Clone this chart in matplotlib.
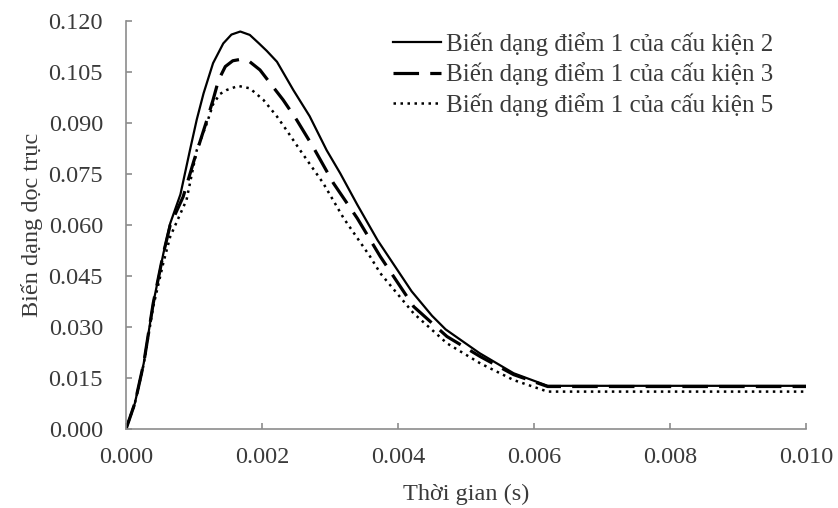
import numpy as np
import matplotlib
matplotlib.use("Agg")
import matplotlib.pyplot as plt
from matplotlib.ticker import FormatStrFormatter

plt.rcParams['font.family'] = ['Liberation Serif', 'DejaVu Serif']

# Biến dạng điểm 1 của cấu kiện 2 (nét liền)
t2 = [0, 0.00013, 0.00026, 0.0004, 0.00055, 0.00065, 0.0008, 0.00094, 0.00104,
      0.00114, 0.00128, 0.00143, 0.00155, 0.00168, 0.00182, 0.00195, 0.00207,
      0.00222, 0.00246, 0.0027, 0.00295, 0.00315, 0.0034, 0.0037, 0.0039,
      0.0042, 0.0045, 0.0047, 0.0052, 0.0057, 0.0062, 0.010]
e2 = [0, 0.0076, 0.0193, 0.037, 0.0517, 0.0605, 0.069, 0.082, 0.091,
      0.0987, 0.1076, 0.1134, 0.1160, 0.1169, 0.1159, 0.1135, 0.1112,
      0.1080, 0.0997, 0.0920, 0.0820, 0.0752, 0.0660, 0.0555, 0.0495,
      0.0405, 0.0333, 0.0293, 0.0223, 0.0164, 0.0127, 0.0127]

# cấu kiện 3 (nét đứt)
t3 = [0, 0.00013, 0.00026, 0.0004, 0.00055, 0.00065, 0.00084, 0.0010, 0.00119,
      0.00128, 0.00136, 0.00146, 0.00157, 0.00168, 0.00182, 0.00197, 0.00212,
      0.00231, 0.00251, 0.00275, 0.00305, 0.0034, 0.00374, 0.00423, 0.00472,
      0.00521, 0.0057, 0.0062, 0.010]
e3 = [0, 0.0076, 0.0193, 0.037, 0.0517, 0.0600, 0.0683, 0.079, 0.0909,
      0.0968, 0.1026, 0.1066, 0.1083, 0.1087, 0.1080, 0.1056, 0.1017,
      0.0968, 0.0909, 0.0830, 0.0723, 0.0620, 0.0507, 0.0360, 0.0272,
      0.0213, 0.0160, 0.0125, 0.0125]

# cấu kiện 5 (nét chấm)
t5 = [0, 0.00013, 0.00026, 0.0004, 0.00055, 0.00065, 0.00089, 0.00104, 0.00119,
      0.00128, 0.00138, 0.00148, 0.00165, 0.00182, 0.00202, 0.00222, 0.00236,
      0.00256, 0.0029, 0.0032, 0.00359, 0.00374, 0.00423, 0.00472, 0.00521,
      0.0057, 0.0062, 0.010]
e5 = [0, 0.0076, 0.019, 0.036, 0.049, 0.0566, 0.0674, 0.082, 0.0900,
      0.0955, 0.0985, 0.0997, 0.1009, 0.1002, 0.0968, 0.0919, 0.0879,
      0.0820, 0.0723, 0.0620, 0.0507, 0.0458, 0.0340, 0.0252, 0.0193,
      0.0144, 0.0110, 0.0110]

labels = ['Biến dạng điểm 1 của cấu kiện 2',
          'Biến dạng điểm 1 của cấu kiện 3',
          'Biến dạng điểm 1 của cấu kiện 5']

xticks = np.arange(0, 0.0101, 0.002)
yticks = np.arange(0, 0.1201, 0.015)

fig = plt.figure(figsize=(8.38, 5.08), dpi=100)
ax = fig.add_axes([0.1504, 0.1555, 0.8114, 0.8032])

ax.plot(t2, e2, color='black', lw=1.6, label=labels[0])
ax.plot(t3, e3, color='black', lw=2.3, dashes=(8.0, 3.5), label=labels[1])
ax.plot(t5, e5, color='black', lw=1.8, dashes=(1.0, 1.8), label=labels[2])

ax.set_xlim(0, 0.010)
ax.set_ylim(0, 0.120)
ax.set_xticks(xticks)
ax.set_yticks(yticks)
ax.xaxis.set_major_formatter(FormatStrFormatter('%.3f'))
ax.yaxis.set_major_formatter(FormatStrFormatter('%.3f'))

for s in ['top', 'right']:
    ax.spines[s].set_visible(False)
for s in ['left', 'bottom']:
    ax.spines[s].set_color('#8c8c8c')
    ax.spines[s].set_linewidth(1.2)
ax.tick_params(direction='in', length=4, width=1.2, color='#8c8c8c',
               labelsize=17.5, labelcolor='#3a3a3a')
ax.tick_params(axis='y', pad=16.5)
ax.tick_params(axis='x', pad=13)

ax.set_xlabel('Thời gian (s)', fontsize=17.5, color='#3a3a3a', labelpad=11)
ax.set_ylabel('Biến dạng dọc trục', fontsize=17.5, color='#3a3a3a', labelpad=4)

ax.legend(loc='upper left', bbox_to_anchor=(393 / 838, 1 - 32 / 508),
          bbox_transform=fig.transFigure, frameon=False, fontsize=18,
          handlelength=1.92, handletextpad=0.2, labelspacing=0.26,
          borderpad=0, borderaxespad=0, labelcolor='#3a3a3a')

fig.savefig('out.png', dpi=100)
